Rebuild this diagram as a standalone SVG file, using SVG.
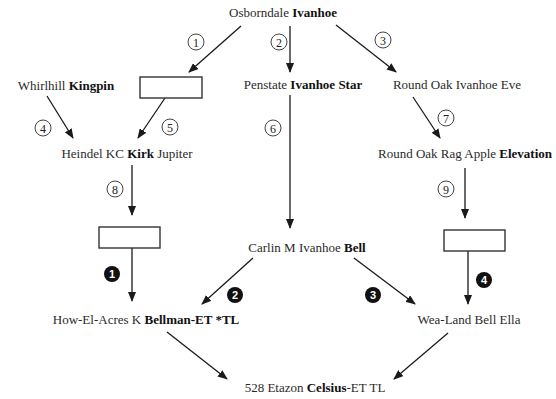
<svg xmlns="http://www.w3.org/2000/svg" width="556" height="399" viewBox="0 0 556 399">
<defs>
<marker id="ah" markerWidth="10" markerHeight="8" refX="9" refY="4" orient="auto" markerUnits="userSpaceOnUse">
<path d="M0,0 L10,4 L0,8 z" fill="#1a1a1a"/>
</marker>
<style>
.t{font-family:"Liberation Serif","Times New Roman",serif;font-size:13px;fill:#2a2a2a;text-anchor:middle}
.b{font-weight:bold;fill:#111}
.c line{stroke:#1a1a1a;stroke-width:1.3;marker-end:url(#ah)}
.box{fill:#fff;stroke:#333;stroke-width:1.4}
.oc circle{fill:#fff;stroke:#444;stroke-width:1}
.oc text{font-family:"Liberation Serif","Times New Roman",serif;font-size:12px;fill:#222;text-anchor:middle}
.bc circle{fill:#111}
.bc text{font-family:"Liberation Sans",Arial,sans-serif;font-size:11px;font-weight:bold;fill:#fff;text-anchor:middle}
</style>
</defs>
<rect width="556" height="399" fill="#fff"/>
<g id="connectors" class="c">
<line x1="241" y1="26" x2="189" y2="72"/>
<line x1="290" y1="26" x2="290" y2="72"/>
<line x1="336" y1="25" x2="396" y2="72"/>
<line x1="47" y1="96" x2="73" y2="138"/>
<line x1="165" y1="98" x2="138" y2="138"/>
<line x1="290" y1="95" x2="290" y2="228"/>
<line x1="413" y1="97" x2="440" y2="138"/>
<line x1="132" y1="165" x2="132" y2="215"/>
<line x1="465" y1="168" x2="465" y2="218"/>
<line x1="132" y1="248" x2="132" y2="301"/>
<line x1="253" y1="258" x2="202" y2="304"/>
<line x1="354" y1="258" x2="415" y2="304"/>
<line x1="468" y1="251" x2="468" y2="304"/>
<line x1="167" y1="332" x2="227" y2="379"/>
<line x1="448" y1="333" x2="394" y2="379"/>
</g>
<g id="osborndale"><text class="t" x="283" y="17">Osborndale <tspan class="b">Ivanhoe</tspan></text></g>
<g id="whirlhill"><text class="t" x="66" y="90">Whirlhill <tspan class="b">Kingpin</tspan></text></g>
<g id="penstate"><text class="t" x="303" y="89">Penstate <tspan class="b">Ivanhoe Star</tspan></text></g>
<g id="roundoak-eve"><text class="t" x="457" y="89">Round Oak Ivanhoe Eve</text></g>
<g id="heindel"><text class="t" x="127" y="158">Heindel KC <tspan class="b">Kirk</tspan> Jupiter</text></g>
<g id="roundoak-elevation"><text class="t" x="465" y="158">Round Oak Rag Apple <tspan class="b">Elevation</tspan></text></g>
<g id="carlin"><text class="t" x="307" y="252">Carlin M Ivanhoe <tspan class="b">Bell</tspan></text></g>
<g id="bellman"><text class="t" x="146" y="324">How-El-Acres K <tspan class="b">Bellman-ET *TL</tspan></text></g>
<g id="wealand"><text class="t" x="469" y="324">Wea-Land Bell Ella</text></g>
<g id="celsius"><text class="t" x="315" y="392">528 Etazon <tspan class="b">Celsius</tspan>-ET TL</text></g>
<g id="box-top"><rect class="box" x="140" y="77" width="62" height="21"/></g>
<g id="box-left"><rect class="box" x="99" y="227" width="61" height="21"/></g>
<g id="box-right"><rect class="box" x="444" y="230" width="61" height="21"/></g>
<g id="outline-numbers" class="oc">
<g><circle cx="196" cy="42" r="8"/><text x="196" y="46.5">1</text></g>
<g><circle cx="279" cy="42" r="8"/><text x="279" y="46.5">2</text></g>
<g><circle cx="383" cy="40" r="8"/><text x="383" y="44.5">3</text></g>
<g><circle cx="43" cy="128" r="8"/><text x="43" y="132.5">4</text></g>
<g><circle cx="170" cy="127" r="8"/><text x="170" y="131.5">5</text></g>
<g><circle cx="273" cy="128" r="8"/><text x="273" y="132.5">6</text></g>
<g><circle cx="446" cy="118" r="8"/><text x="446" y="122.5">7</text></g>
<g><circle cx="115" cy="189" r="8"/><text x="115" y="193.5">8</text></g>
<g><circle cx="446" cy="189" r="8"/><text x="446" y="193.5">9</text></g>
</g>
<g id="filled-numbers" class="bc">
<g><circle cx="112" cy="274" r="8"/><text x="112" y="278">1</text></g>
<g><circle cx="235" cy="295" r="8"/><text x="235" y="299">2</text></g>
<g><circle cx="373" cy="295" r="8"/><text x="373" y="299">3</text></g>
<g><circle cx="484" cy="280" r="8"/><text x="484" y="284">4</text></g>
</g>
</svg>
